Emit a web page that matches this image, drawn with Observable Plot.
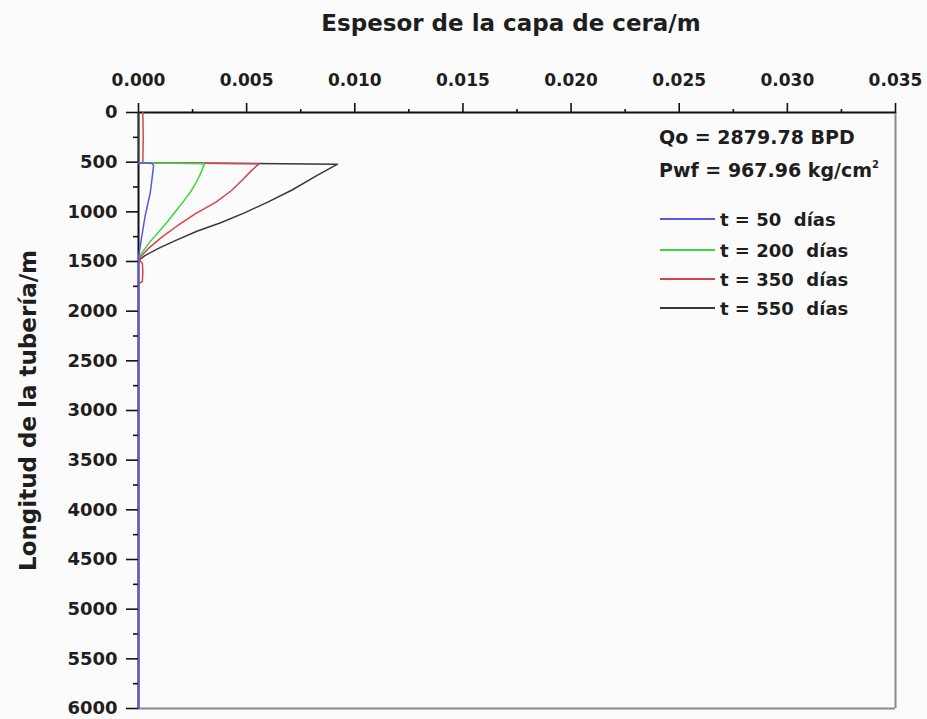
<!DOCTYPE html>
<html><head><meta charset="utf-8">
<script src="https://cdn.jsdelivr.net/npm/d3@7"></script>
<script src="https://cdn.jsdelivr.net/npm/@observablehq/plot@0.6"></script>
<style>
body{margin:0;background:#fbfbfb;}
#wrap{position:relative;width:927px;height:719px;font-family:"DejaVu Sans",sans-serif;font-weight:bold;color:#1e1e1e;}
#chart svg{display:block;}
.note{position:absolute;left:659px;font-size:19px;white-space:pre;line-height:1;}
.note sup{font-size:10px;vertical-align:9px;}
.lg{position:absolute;left:660px;height:20px;display:flex;align-items:center;white-space:pre;font-size:18px;}
.lg .sw{display:inline-block;width:55px;height:2px;margin-right:5px;}
</style>
</head><body>
<div id="wrap"><div id="chart"></div></div>
<script>
// Axis texts
const xTitle = "Espesor de la capa de cera/m";
const yTitle = "Longitud de la tubería/m";
const xTicks = [0, 0.005, 0.010, 0.015, 0.020, 0.025, 0.030, 0.035];
const xMinor = [0.0025, 0.0075, 0.0125, 0.0175, 0.0225, 0.0275, 0.0325];
const yTicks = [0, 500, 1000, 1500, 2000, 2500, 3000, 3500, 4000, 4500, 5000, 5500, 6000];
const yMinor = [250, 750, 1250, 1750, 2250, 2750, 3250, 3750, 4250, 4750, 5250, 5750];

// Annotation
const noteQo = "Qo = 2879.78 BPD";
const notePwf = "Pwf = 967.96 kg/cm";

// Series (legend order)
const seriesNames = ["t = 50  días", "t = 200  días", "t = 350  días", "t = 550  días"];
const seriesColors = ["#5858e8", "#3cd83c", "#d8424e", "#383838"];

// t = 50 días
const depth50 = [505, 510, 533, 800, 1050, 1290, 1456, 6000];
const thick50 = [0, 0.0006, 0.0007, 0.00055, 0.0003, 0.00012, 0, 0];
// t = 200 días
const depth200 = [505, 517, 600, 690, 785, 890, 1000, 1110, 1210, 1310, 1400, 1460];
const thick200 = [0, 0.00305, 0.0029, 0.0027, 0.00245, 0.0021, 0.0017, 0.0013, 0.0009, 0.0005, 0.0002, 0];
// t = 350 días
const depth350 = [0, 250, 500, 505, 517, 590, 680, 785, 900, 1020, 1140, 1255, 1360, 1440, 1475, 1520, 1600, 1700, 1725];
const thick350 = [0.0002, 0.00022, 0.0002, 0.0002, 0.00556, 0.0052, 0.0048, 0.0043, 0.0036, 0.00262, 0.0018, 0.00108, 0.0005, 0.00015, 0, 0.00018, 0.0002, 0.00018, 0];
// t = 550 días
const depth550 = [0, 500, 505, 520, 640, 780, 900, 1010, 1110, 1195, 1290, 1370, 1440, 1490];
const thick550 = [0, 0, 0, 0.0092, 0.0082, 0.0071, 0.0060, 0.0049, 0.0038, 0.0027, 0.0017, 0.0009, 0.0003, 0];

const depths = [depth50, depth200, depth350, depth550];
const thicks = [thick50, thick200, thick350, thick550];
// draw order: 550, 350, 200, 50 (50 on top)
const rows = [3, 2, 1, 0].flatMap(i => depths[i].map((d, j) => ({series: seriesNames[i], depth: d, thick: thicks[i][j]})));

const chart = Plot.plot({
  width: 927, height: 719,
  marginLeft: 138, marginTop: 112, marginRight: 32, marginBottom: 11,
  style: {background: "transparent", fontFamily: "DejaVu Sans, sans-serif", fontWeight: "bold", fontSize: "17px", color: "#1e1e1e", overflow: "visible"},
  x: {domain: [0, 0.035]},
  y: {domain: [0, 6000], reverse: true},
  color: {domain: seriesNames, range: seriesColors},
  marks: [
    Plot.ruleX([0.035], {stroke: "#8a8a8a", strokeWidth: 2}),
    Plot.ruleY([6000], {stroke: "#8a8a8a", strokeWidth: 2}),
    Plot.ruleY([0], {stroke: "#111", strokeWidth: 2}),
    Plot.ruleX([0], {stroke: "#111", strokeWidth: 2}),
    Plot.axisX(xMinor, {anchor: "top", tickSize: 4, tickFormat: () => "", label: null, strokeWidth: 1.6, stroke: "#111"}),
    Plot.axisX(xTicks, {anchor: "top", tickSize: 10, tickPadding: 17, tickFormat: d3.format(".3f"), label: null, strokeWidth: 1.6, stroke: "#111", fontSize: 17}),
    Plot.axisY(yMinor, {anchor: "left", tickSize: 5, tickFormat: () => "", label: null, strokeWidth: 1.6, stroke: "#111"}),
    Plot.axisY(yTicks, {anchor: "left", tickSize: 12, tickPadding: 9, tickFormat: d => String(d), label: null, strokeWidth: 1.6, stroke: "#111", fontSize: 18}),
    Plot.text([xTitle], {frameAnchor: "top", dy: -98, dx: -6, fontSize: 23, fontWeight: "bold", fill: "#1e1e1e"}),
    Plot.text([yTitle], {frameAnchor: "left", textAnchor: "middle", rotate: -90, dx: -110, dy: 0, fontSize: 23, fontWeight: "bold", fill: "#1e1e1e"}),
    Plot.line(rows, {x: "thick", y: "depth", z: "series", stroke: "series", strokeWidth: 1.5})
  ]
});
document.getElementById("chart").appendChild(chart);

const wrap = document.getElementById("wrap");
const q = document.createElement("div");
q.className = "note"; q.style.top = "128px"; q.textContent = noteQo;
wrap.appendChild(q);
const p = document.createElement("div");
p.className = "note"; p.style.top = "160px"; p.textContent = notePwf;
const sup = document.createElement("sup"); sup.textContent = "2"; p.appendChild(sup);
wrap.appendChild(p);
const legendTops = [209, 240, 269, 298];
seriesNames.forEach((name, i) => {
  const row = document.createElement("div");
  row.className = "lg";
  row.style.top = legendTops[i] + "px";
  const sw = document.createElement("span");
  sw.className = "sw";
  sw.style.background = seriesColors[i];
  row.appendChild(sw);
  row.appendChild(document.createTextNode(name));
  wrap.appendChild(row);
});
</script>
</body></html>
